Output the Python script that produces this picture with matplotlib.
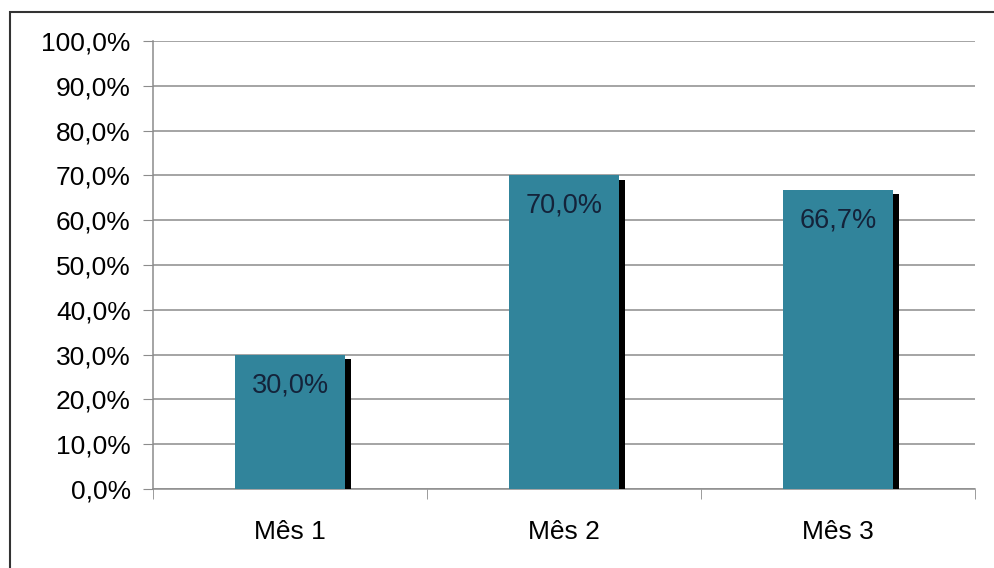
import matplotlib.pyplot as plt
import matplotlib.patheffects as pe
from matplotlib.patches import Rectangle
from matplotlib.ticker import FuncFormatter, MultipleLocator
import matplotlib
matplotlib.rcParams.update({'font.size': 19, 'font.family': 'Liberation Sans'})

meses = ['Mês 1', 'Mês 2', 'Mês 3']
valores = [30.0, 70.0, 66.7]

fig = plt.figure(figsize=(9.95, 5.68), dpi=100)
# moldura externa (só esquerda/topo aparecem no recorte)
fig.patches.append(Rectangle((10/995, -0.1), 1.2, 1 - 12/568 + 0.1, transform=fig.transFigure,
                             fill=False, edgecolor='#333333', linewidth=1.5))
ax = fig.add_axes([153/995, 1 - 489/568, 822/995, 448/568])

x = range(len(meses))
bars = ax.bar(x, valores, width=0.4, color='#31849B', zorder=3)
for b in bars:
    b.set_path_effects([pe.SimplePatchShadow(offset=(4.5, -3), shadow_rgbFace='black', alpha=1.0),
                        pe.Normal()])

for i, v in enumerate(valores):
    ax.text(i, v - 6.8, f'{v:.1f}%'.replace('.', ','), ha='center', va='center',
            color='#14233a', fontsize=19.5, zorder=4)

ax.set_xlim(-0.5, 2.5)
ax.set_ylim(0, 100)
ax.yaxis.set_major_locator(MultipleLocator(10))
ax.yaxis.set_major_formatter(FuncFormatter(lambda v, p: f'{v:.1f}%'.replace('.', ',')))
ax.yaxis.grid(True, color='#8c8c8c', linewidth=1.1, zorder=0)
ax.set_axisbelow(True)

ax.set_xticks(list(x))
ax.set_xticklabels(meses)
ax.set_xticks([-0.5, 0.5, 1.5, 2.5], minor=True)
ax.tick_params(axis='x', which='major', length=0, pad=22)
ax.tick_params(axis='x', which='minor', length=7, color='#8c8c8c', direction='out')
ax.tick_params(axis='y', length=7, color='#8c8c8c', direction='out', pad=9)

for s in ['top', 'right']:
    ax.spines[s].set_visible(False)
for s in ['left', 'bottom']:
    ax.spines[s].set_color('#8c8c8c')
    ax.spines[s].set_linewidth(1.1)

fig.savefig('out.png', dpi=100)
